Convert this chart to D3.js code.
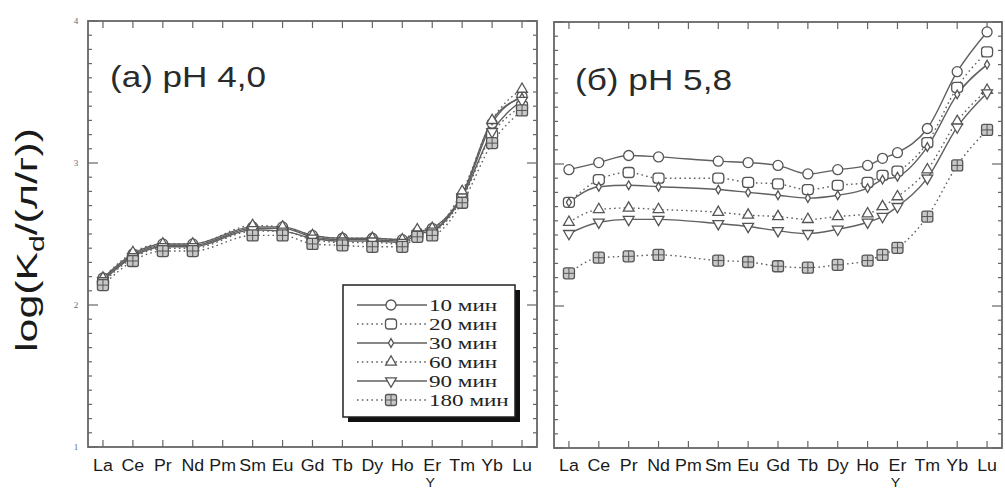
<!DOCTYPE html>
<html><head><meta charset="utf-8">
<script src="https://cdn.jsdelivr.net/npm/d3@7"></script>
<style>
html,body{margin:0;padding:0;background:#fff;}
svg{display:block;}
</style></head>
<body>
<svg id="chart" width="1005" height="489"></svg>
<script>
// ---- data ----
const tickElements = ["La","Ce","Pr","Nd","Pm","Sm","Eu","Gd","Tb","Dy","Ho","Er","Tm","Yb","Lu"];
const dataElements = ["La","Ce","Pr","Nd","Sm","Eu","Gd","Tb","Dy","Ho","Y","Er","Tm","Yb","Lu"];
const yTickValues = [1,2,3,4];
const seriesNames = ["10 мин","20 мин","30 мин","60 мин","90 мин","180 мин"];
const panelTitles = ["(a) pH 4,0","(б) pH 5,8"];
const yAxisTitle = ["log(K","d","/(л/г))"];

// pH 4.0
const ph4_10  = [2.19,2.36,2.43,2.43,2.55,2.55,2.49,2.47,2.47,2.46,2.51,2.54,2.77,3.28,3.47];
const ph4_20  = [2.16,2.33,2.40,2.40,2.52,2.52,2.46,2.44,2.44,2.43,2.49,2.51,2.75,3.20,3.40];
const ph4_30  = [2.18,2.35,2.42,2.42,2.54,2.54,2.48,2.46,2.46,2.45,2.52,2.53,2.78,3.30,3.46];
const ph4_60  = [2.19,2.37,2.43,2.43,2.56,2.55,2.49,2.47,2.47,2.46,2.53,2.54,2.80,3.30,3.52];
const ph4_90  = [2.17,2.34,2.41,2.41,2.53,2.52,2.47,2.45,2.45,2.44,2.50,2.52,2.76,3.22,3.44];
const ph4_180 = [2.14,2.31,2.38,2.38,2.49,2.49,2.43,2.42,2.41,2.41,2.48,2.49,2.72,3.14,3.37];

// pH 5.8
const ph58_10  = [2.96,3.01,3.06,3.05,3.02,3.01,2.99,2.93,2.96,2.99,3.04,3.08,3.25,3.65,3.93];
const ph58_20  = [2.73,2.89,2.94,2.90,2.90,2.87,2.86,2.82,2.85,2.87,2.92,2.95,3.15,3.54,3.79];
const ph58_30  = [2.73,2.84,2.85,2.84,2.82,2.80,2.78,2.76,2.78,2.83,2.89,2.91,3.12,3.49,3.70];
const ph58_60  = [2.59,2.68,2.69,2.68,2.66,2.64,2.63,2.61,2.63,2.65,2.70,2.77,2.96,3.30,3.52];
const ph58_90  = [2.51,2.59,2.61,2.61,2.58,2.56,2.53,2.51,2.54,2.59,2.63,2.70,2.90,3.26,3.50];
const ph58_180 = [2.23,2.34,2.35,2.36,2.32,2.31,2.28,2.27,2.29,2.32,2.36,2.41,2.63,2.99,3.24];

const panelsData = [
  [ph4_10, ph4_20, ph4_30, ph4_60, ph4_90, ph4_180],
  [ph58_10, ph58_20, ph58_30, ph58_60, ph58_90, ph58_180]
];

// ---- styles ----
const markerKinds = ["circle","rsquare","diamond","triUp","triDown","grid"];
const dashed = [false,true,false,true,false,true];
const lineColor = "#606060";
const markColor = "#555";

const svg = d3.select("#chart");

function xIndex(el){
  if (el === "Y") return (tickElements.indexOf("Ho") + tickElements.indexOf("Er")) / 2;
  return tickElements.indexOf(el);
}

function stretchText(sel, target){
  const w = sel.node().getComputedTextLength();
  return target / w;
}

function drawMarker(g, kind, cx, cy){
  const m = g.append("g").attr("transform", `translate(${cx},${cy})`);
  const st = (s)=> s.attr("stroke", markColor).attr("stroke-width", 1.3);
  if (kind === "circle") {
    st(m.append("circle").attr("r", 5).attr("fill", "#fff"));
  } else if (kind === "rsquare") {
    st(m.append("rect").attr("x",-5.5).attr("y",-5).attr("width",11).attr("height",10).attr("rx",3).attr("fill","#fff"));
  } else if (kind === "diamond") {
    st(m.append("path").attr("d", d3.symbol(d3.symbolDiamond, 22)()).attr("fill","#fff"));
  } else if (kind === "triUp") {
    st(m.append("path").attr("d", d3.symbol(d3.symbolTriangle, 50)()).attr("fill","#fff"));
  } else if (kind === "triDown") {
    st(m.append("path").attr("d", d3.symbol(d3.symbolTriangle, 50)()).attr("transform","rotate(180)").attr("fill","#fff"));
  } else if (kind === "grid") {
    st(m.append("rect").attr("x",-5.5).attr("y",-5.5).attr("width",11).attr("height",11).attr("rx",2).attr("fill","#c8c8c8"));
    m.append("line").attr("x1",-5.5).attr("x2",5.5).attr("y1",0).attr("y2",0).attr("stroke",markColor).attr("stroke-width",1);
    m.append("line").attr("y1",-5.5).attr("y2",5.5).attr("x1",0).attr("x2",0).attr("stroke",markColor).attr("stroke-width",1);
  }
}

const panels = [
  {x0: 88, x1: 537, y0: 21, y1: 447, title: panelTitles[0], tx: 110, ty: 87, tw: 156, yLabels: true, legend: true},
  {x0: 554, x1: 1002, y0: 22, y1: 448, title: panelTitles[1], tx: 575, ty: 90, tw: 157, yLabels: false, legend: false}
];

panels.forEach((p, pi) => {
  const x = d3.scaleLinear().domain([-0.5, tickElements.length - 0.5]).range([p.x0, p.x1]);
  const y = d3.scaleLinear().domain([1, 4]).range([p.y1, p.y0]);
  const g = svg.append("g");

  // frame
  g.append("rect").attr("x", p.x0).attr("y", p.y0).attr("width", p.x1 - p.x0).attr("height", p.y1 - p.y0)
    .attr("fill", "none").attr("stroke", "#666").attr("stroke-width", 1.8);

  // y ticks (minor every 0.1, major at integers) on both sides
  const yt = d3.range(10, 41).map(v => v / 10);
  yt.forEach(v => {
    const major = Math.abs(v - Math.round(v)) < 1e-9;
    const len = major ? 10 : 4;
    g.append("line").attr("x1", p.x0).attr("x2", p.x0 + len).attr("y1", y(v)).attr("y2", y(v))
      .attr("stroke", "#666").attr("stroke-width", 1.2);
    g.append("line").attr("x1", p.x1).attr("x2", p.x1 - len).attr("y1", y(v)).attr("y2", y(v))
      .attr("stroke", "#666").attr("stroke-width", 1.2);
  });
  // x ticks top and bottom
  tickElements.forEach((el, i) => {
    g.append("line").attr("x1", x(i)).attr("x2", x(i)).attr("y1", p.y1).attr("y2", p.y1 - 7)
      .attr("stroke", "#666").attr("stroke-width", 1.2);
    g.append("line").attr("x1", x(i)).attr("x2", x(i)).attr("y1", p.y0).attr("y2", p.y0 + 7)
      .attr("stroke", "#666").attr("stroke-width", 1.2);
  });

  // x tick labels
  tickElements.forEach((el, i) => {
    const t = g.append("text").attr("font-family", "Liberation Sans, Arial, sans-serif").attr("font-size", 16.5)
      .attr("fill", "#1a1a1a").attr("text-anchor", "middle").text(el);
    t.attr("transform", `translate(${x(i)},471) scale(1.08,1)`);
  });
  // "Y" under Er
  g.append("text").attr("font-family", "Liberation Sans, Arial, sans-serif").attr("font-size", 13)
    .attr("fill", "#1a1a1a").attr("text-anchor", "middle").text("Y")
    .attr("transform", `translate(${x(tickElements.indexOf("Er")) - 2},487) scale(1.1,1)`);

  // y tick labels
  if (p.yLabels) {
    yTickValues.forEach(v => {
      g.append("text").attr("x", 76).attr("y", y(v) + 3).attr("text-anchor", "middle")
        .attr("font-family", "Liberation Serif, serif").attr("font-size", 9).attr("fill", "#5b6b85").text(v);
    });
  }

  // title
  {
    const t = g.append("text").attr("font-family", "Liberation Sans, Arial, sans-serif").attr("font-size", 30)
      .attr("fill", "#2a2a2a").text(p.title);
    const s = stretchText(t, p.tw);
    t.attr("transform", `translate(${p.tx},${p.ty}) scale(${s},1)`);
  }

  // series
  const data = panelsData[pi];
  data.forEach((vals, si) => {
    const pts = dataElements.map((el, k) => [x(xIndex(el)), y(vals[k])]);
    g.append("path").attr("d", d3.line().curve(d3.curveMonotoneX)(pts))
      .attr("fill", "none").attr("stroke", lineColor).attr("stroke-width", 1.4)
      .attr("stroke-dasharray", dashed[si] ? "1.6,3.2" : null);
  });
  data.forEach((vals, si) => {
    dataElements.forEach((el, k) => drawMarker(g, markerKinds[si], x(xIndex(el)), y(vals[k])));
  });

  // legend
  if (p.legend) {
    const lg = svg.append("g");
    lg.append("rect").attr("x", 348).attr("y", 290).attr("width", 172).attr("height", 132).attr("fill", "#111");
    lg.append("rect").attr("x", 343).attr("y", 285).attr("width", 172).attr("height", 132)
      .attr("fill", "#fff").attr("stroke", "#222").attr("stroke-width", 1.5);
    seriesNames.forEach((name, si) => {
      const ry = 305 + si * 19;
      lg.append("line").attr("x1", 357).attr("x2", 427).attr("y1", ry).attr("y2", ry)
        .attr("stroke", lineColor).attr("stroke-width", 1.4).attr("stroke-dasharray", dashed[si] ? "1.6,3.2" : null);
      drawMarker(lg, markerKinds[si], 391, ry);
      lg.append("text").attr("font-family", "Liberation Serif, Times New Roman, serif")
        .attr("font-size", 16.5).attr("fill", "#222").text(name)
        .attr("transform", `translate(429,${ry + 6}) scale(1.4,1.05)`);
    });
  }
});

// y axis title
{
  const t = svg.append("text").attr("font-family", "Liberation Sans, Arial, sans-serif").attr("font-size", 30).attr("fill", "#1a1a1a");
  t.append("tspan").text(yAxisTitle[0]);
  t.append("tspan").attr("font-size", 21).attr("dy", 7).text(yAxisTitle[1]);
  t.append("tspan").attr("dy", -7).text(yAxisTitle[2]);
  const w = t.node().getComputedTextLength();
  const s = 224 / w;
  t.attr("text-anchor", "middle").attr("transform", `translate(37,240) rotate(-90) scale(${s},1)`);
}
</script>
</body></html>
